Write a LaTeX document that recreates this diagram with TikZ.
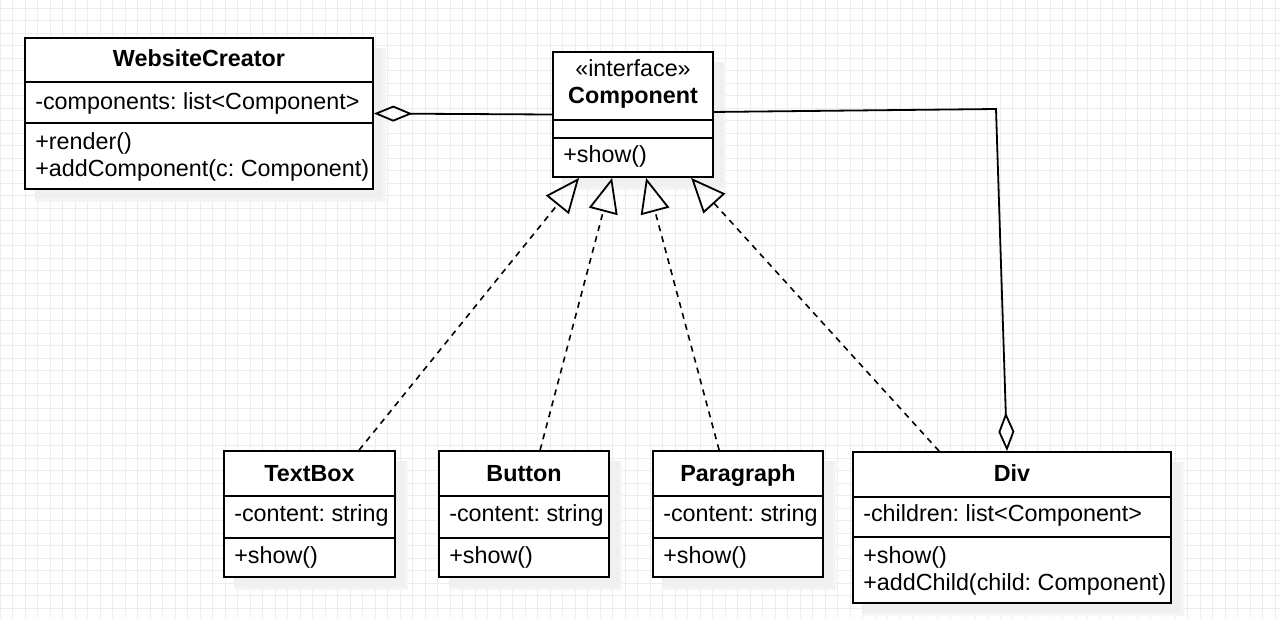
\documentclass[tikz,border=0pt]{standalone}
\usepackage{fontspec}
\setmainfont{Liberation Sans}
\usetikzlibrary{arrows.meta,fit,calc}
\frenchspacing
\begin{document}
\begin{tikzpicture}[x=0.75pt,y=-0.75pt,
  umlbox/.style={draw=black, line width=1.35pt, inner sep=0pt},
  clstitle/.style={font=\fontsize{17.5}{20}\selectfont\bfseries, anchor=base, inner sep=0pt},
  clsstereo/.style={font=\fontsize{17.5}{20}\selectfont, anchor=base, inner sep=0pt},
  clsmember/.style={font=\fontsize{17.5}{20}\selectfont, anchor=base west, inner sep=0pt},
  divline/.style={line width=1.35pt},
  shadowfill/.style={fill=black!6},
  gridline/.style={draw=black!7, line width=0.5pt},
  realize/.style={line width=1.2pt, dash pattern=on 4.5pt off 4pt,
    -{Triangle[open, length=26pt, width=22pt, line width=1.35pt]}},
  agg/.style={line width=1.35pt, -{Diamond[open, length=29pt, width=12pt, line width=1.35pt]}}
]
\useasboundingbox (0,0) rectangle (1280,618);
\fill[white] (0,0) rectangle (1280,618);
% grid
\foreach \i in {0,...,102} {\draw[gridline] (12.5*\i,0) -- (12.5*\i,618);}
\foreach \j in {0,...,49} {\draw[gridline] (0,8.3+12.5*\j) -- (1280,8.3+12.5*\j);}

% shadows
\fill[black!4] (35,48) rectangle (386,202);
\fill[shadowfill] (35,48) rectangle (383,199);
\fill[black!4] (563,62) rectangle (726,190);
\fill[shadowfill] (563,62) rectangle (723,187);
\fill[black!4] (234,461) rectangle (408,590);
\fill[shadowfill] (234,461) rectangle (405,587);
\fill[black!4] (449,461) rectangle (622,590);
\fill[shadowfill] (449,461) rectangle (619,587);
\fill[black!4] (663,461) rectangle (836,590);
\fill[shadowfill] (663,461) rectangle (833,587);
\fill[black!4] (863,462) rectangle (1184,616);
\fill[shadowfill] (863,462) rectangle (1181,613);

% boxes
\fill[white] (25,38) rectangle (373,189);
\node[umlbox, fit={(25,38) (373,189)}] (wc) {};
\draw[divline] (wc.west |- 0,82) -- (wc.east |- 0,82);
\draw[divline] (wc.west |- 0,123) -- (wc.east |- 0,123);

\fill[white] (553,52) rectangle (713,177);
\node[umlbox, fit={(553,52) (713,177)}] (comp) {};
\draw[divline] (comp.west |- 0,120) -- (comp.east |- 0,120);
\draw[divline] (comp.west |- 0,138) -- (comp.east |- 0,138);

\fill[white] (224,451) rectangle (395,577);
\node[umlbox, fit={(224,451) (395,577)}] (tb) {};
\draw[divline] (tb.west |- 0,496) -- (tb.east |- 0,496);
\draw[divline] (tb.west |- 0,538) -- (tb.east |- 0,538);

\fill[white] (439,451) rectangle (609,577);
\node[umlbox, fit={(439,451) (609,577)}] (btn) {};
\draw[divline] (btn.west |- 0,496) -- (btn.east |- 0,496);
\draw[divline] (btn.west |- 0,538) -- (btn.east |- 0,538);

\fill[white] (653,451) rectangle (823,577);
\node[umlbox, fit={(653,451) (823,577)}] (par) {};
\draw[divline] (par.west |- 0,496) -- (par.east |- 0,496);
\draw[divline] (par.west |- 0,538) -- (par.east |- 0,538);

\fill[white] (853,452) rectangle (1171,603);
\node[umlbox, fit={(853,452) (1171,603)}] (div) {};
\draw[divline] (div.west |- 0,497) -- (div.east |- 0,497);
\draw[divline] (div.west |- 0,537) -- (div.east |- 0,537);

% texts
\node[clstitle] (wct) at (199,66.7) {WebsiteCreator};
\node[clsmember] (wca) at (35,109) {-components: list<Component>};
\node[clsmember] (wcm1) at (35,149.3) {+render()};
\node[clsmember] (wcm2) at (35,176.7) {+addComponent(c: Component)};

\node[clsstereo] (cst) at (633,76.7) {«interface»};
\node[clstitle] (ct) at (633,103.3) {Component};
\node[clsmember] (cm) at (563,162.7) {+show()};

\node[clstitle] (tbt) at (309.5,481.7) {TextBox};
\node[clsmember] (tba) at (234,521.7) {-content: string};
\node[clsmember] (tbm) at (234,563.3) {+show()};

\node[clstitle] (btnt) at (524,481.7) {Button};
\node[clsmember] (btna) at (449,521.7) {-content: string};
\node[clsmember] (btnm) at (449,563.3) {+show()};

\node[clstitle] (part) at (738,481.7) {Paragraph};
\node[clsmember] (para) at (663,521.7) {-content: string};
\node[clsmember] (parm) at (663,563.3) {+show()};

\node[clstitle] (divt) at (1012,481) {Div};
\node[clsmember] (diva) at (863,521.7) {-children: list<Component>};
\node[clsmember] (divm1) at (863,563.3) {+show()};
\node[clsmember] (divm2) at (863,590.7) {+addChild(child: Component)};

% connectors
\draw[agg] (comp.west) -- (wc.east);
\coordinate (bend) at (996,109);
\draw[agg] ($(comp.north east)!0.48!(comp.south east)$) -- (bend) -- ($(div.north)+(-5,0)$);

\draw[realize] ($(tb.north west)+(136,0)$) -- ($(comp.south west)+(27,0)$);
\draw[realize] ($(btn.north west)+(102,0)$) -- ($(comp.south west)+(60,0)$);
\draw[realize] ($(par.north west)+(67,0)$) -- ($(comp.south west)+(94,0)$);
\draw[realize] ($(div.north west)+(87,0)$) -- ($(comp.south west)+(139,0)$);
\end{tikzpicture}
\end{document}
